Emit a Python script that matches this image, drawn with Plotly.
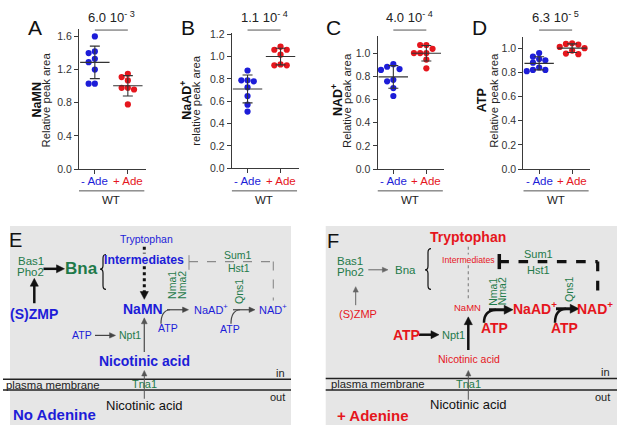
import numpy as np
import plotly.graph_objects as go

W, H = 617, 433
FONT = "Arial, 'Liberation Sans', Helvetica, sans-serif"
BLUE = "#1d1dd8"
RED = "#e5161d"
GREEN = "#1f7a4a"
AX = "#3a3a3a"

# ---------------- data ----------------
groups = ["- Ade", "+ Ade"]
genotype = "WT"
panel_letters = ["A", "B", "C", "D"]
metabolites = ["NaMN", "NaAD<sup>+</sup>", "NAD<sup>+</sup>", "ATP"]
ylabels = ["Relative peak area", "relative peak area", "Relative peak area", "Relative peak area"]
p_values = ["6.0 10<sup>- 3</sup>", "1.1 10<sup>- 4</sup>", "4.0 10<sup>- 4</sup>", "6.3 10<sup>- 5</sup>"]

namn_minus = [1.60, 1.42, 1.40, 1.33, 1.29, 1.20, 1.03, 1.03]
namn_plus = [1.15, 1.11, 1.07, 0.98, 0.96, 0.98, 0.78]
naad_minus = [0.876, 0.788, 0.788, 0.779, 0.726, 0.647, 0.570, 0.508]
naad_plus = [1.062, 1.089, 1.062, 1.018, 0.930, 0.922, 0.922]
nad_minus = [0.907, 0.885, 0.865, 0.857, 0.772, 0.759, 0.700, 0.632]
nad_plus = [1.073, 1.073, 1.040, 1.003, 1.003, 1.003, 0.947, 0.871]
atp_minus = [0.96, 0.93, 0.91, 0.90, 0.88, 0.84, 0.82, 0.81, 0.82]
atp_plus = [1.04, 1.035, 1.03, 1.01, 1.00, 0.98, 0.955, 0.95]

series_minus = [namn_minus, naad_minus, nad_minus, atp_minus]
series_plus = [namn_plus, naad_plus, nad_plus, atp_plus]

yticks_A = [0.0, 0.4, 0.8, 1.2, 1.6]
yticks_B = [0.0, 0.2, 0.4, 0.6, 0.8, 1.0, 1.2]
yticks_C = [0.0, 0.2, 0.4, 0.6, 0.8, 1.0]
yticks_D = [0.0, 0.2, 0.4, 0.6, 0.8, 1.0]
yticks = [yticks_A, yticks_B, yticks_C, yticks_D]

# ---------------- geometry (pixels) ----------------
geo = [
    dict(ax=79.0, top=25.0, base=168.3, ppu=85.0, t1=-42, t2=-33),
    dict(ax=231.7, top=29.0, base=167.5, ppu=114.5, t1=-46.5, t2=-36.5),
    dict(ax=377.5, top=32.0, base=168.3, ppu=118.6, t1=-41, t2=-31),
    dict(ax=523.3, top=33.3, base=168.3, ppu=124.0, t1=-41.5, t2=-30),
]
SP = 33.0
X0, X1 = -0.48, 1.55
MS = 6.2


def swarm(vals, ppu, d=6.2):
    v = np.asarray(vals, float)
    order = np.argsort(-v)
    placed = []
    offs = np.zeros(len(v))
    cands = [0.0]
    for k in range(1, 14):
        cands += [-k * d / 2, k * d / 2]
    for i in order:
        yp = v[i] * ppu
        for c in cands:
            if all((c - px) ** 2 + (yp - py) ** 2 >= (d * 0.98) ** 2 for px, py in placed):
                break
        placed.append((c, yp))
        offs[i] = c
    return offs


fig = go.Figure()
layout = dict(width=W, height=H, autosize=False, margin=dict(l=0, r=0, t=0, b=0),
              paper_bgcolor="white", plot_bgcolor="rgba(0,0,0,0)", showlegend=False,
              font=dict(family=FONT, color="#222"), hovermode=False)
shapes = []
annos = []

for i in range(4):
    g = geo[i]
    n = "" if i == 0 else str(i + 1)
    xa, ya = "x" + n, "y" + n
    xd = [g["ax"] / W, (g["ax"] + (X1 - X0) * SP) / W]
    yd = [1 - g["base"] / H, 1 - g["top"] / H]
    ytop = (g["base"] - g["top"]) / g["ppu"]
    layout["xaxis" + n] = dict(domain=xd, range=[X0, X1], anchor=ya, showgrid=False, zeroline=False,
                               showline=True, linecolor=AX, linewidth=1, ticks="outside", ticklen=4,
                               tickcolor=AX, tickvals=[0, 1], showticklabels=False, fixedrange=True)
    layout["yaxis" + n] = dict(domain=yd, range=[0, ytop], anchor=xa, showgrid=False, zeroline=False,
                               showline=True, linecolor=AX, linewidth=1, ticks="outside", ticklen=4,
                               tickcolor=AX, tickvals=yticks[i], tickformat=".1f",
                               tickfont=dict(size=10.5, color="#333", family=FONT), fixedrange=True)
    for k, (vals, col) in enumerate([(series_minus[i], BLUE), (series_plus[i], RED)]):
        offs = swarm(vals, g["ppu"], MS) / SP
        fig.add_trace(go.Scatter(x=k + offs, y=vals, mode="markers", xaxis=xa, yaxis=ya,
                                 marker=dict(size=MS, color=col, line=dict(width=0))))
    for k, vals in enumerate([series_minus[i], series_plus[i]]):
        m = float(np.mean(vals))
        s = float(np.std(vals, ddof=1))
        fig.add_trace(go.Scatter(x=[k], y=[m], mode="markers", xaxis=xa, yaxis=ya,
                                 marker=dict(symbol="line-ew", size=21, color="#333",
                                             line=dict(width=1.1, color="#333")),
                                 error_y=dict(type="data", array=[s], width=5, thickness=1.1, color="#333")))
    annos.append(dict(x=0, y=181, xref=xa, yref="y5", text=groups[0], showarrow=False,
                      font=dict(size=11.5, color=BLUE, family=FONT)))
    annos.append(dict(x=1, y=181, xref=xa, yref="y5", text=groups[1], showarrow=False,
                      font=dict(size=11.5, color=RED, family=FONT)))
    shapes.append(dict(type="line", xref=xa, yref="y5", x0=X0, x1=1.5, y0=190.7, y1=190.7,
                       line=dict(color="#555", width=1)))
    annos.append(dict(x=0.5, y=200.5, xref=xa, yref="y5", text=genotype, showarrow=False,
                      font=dict(size=11.5, color="#222", family=FONT)))
    shapes.append(dict(type="line", xref=xa, yref="y5", x0=0, x1=1, y0=25.7, y1=25.7,
                       line=dict(color="#555", width=1)))
    annos.append(dict(x=0.5, y=12.5, xref=xa, yref="y5", text=p_values[i], showarrow=False,
                      font=dict(size=13, color="#222", family=FONT)))
    annos.append(dict(x=g["ax"] - 44, y=22.7, xref="x5", yref="y5", text=panel_letters[i], showarrow=False,
                      font=dict(size=21, color="#111", family=FONT)))
    annos.append(dict(x=g["ax"] + g["t1"], y=98, xref="x5", yref="y5", text="<b>" + metabolites[i] + "</b>",
                      showarrow=False, textangle=-90, font=dict(size=12.5, color="#111", family=FONT)))
    annos.append(dict(x=g["ax"] + g["t2"], y=98, xref="x5", yref="y5", text=ylabels[i],
                      showarrow=False, textangle=-90, font=dict(size=11.3, color="#222", family=FONT)))

layout["xaxis5"] = dict(domain=[0, 1], range=[0, W], visible=False, fixedrange=True, anchor="y5")
layout["yaxis5"] = dict(domain=[0, 1], range=[H, 0], visible=False, fixedrange=True, anchor="x5")
fig.add_trace(go.Scatter(x=[], y=[], xaxis="x5", yaxis="y5", mode="markers"))


def txt(x, y, s, size, color, bold=False, angle=0, anchor="center"):
    annos.append(dict(x=x, y=y, xref="x5", yref="y5", text=("<b>%s</b>" % s) if bold else s,
                      showarrow=False, textangle=angle, xanchor=anchor, yanchor="middle",
                      font=dict(size=size, color=color, family=FONT)))


def line(x0, y0, x1, y1, w=1.0, color="#000", dash="solid"):
    shapes.append(dict(type="line", xref="x5", yref="y5", x0=x0, y0=y0, x1=x1, y1=y1,
                       line=dict(width=w, color=color, dash=dash)))


def path(d, w=1.0, color="#000", fill=None):
    s = dict(type="path", xref="x5", yref="y5", path=d, line=dict(width=w, color=color))
    if fill:
        s["fillcolor"] = fill
    shapes.append(s)


def head(x0, y0, x1, y1, L, hw, color):
    ux, uy = x1 - x0, y1 - y0
    n = (ux * ux + uy * uy) ** 0.5
    ux, uy = ux / n, uy / n
    bx, by = x1 - ux * L, y1 - uy * L
    px, py = -uy * hw, ux * hw
    path("M %.2f %.2f L %.2f %.2f L %.2f %.2f Z" % (x1, y1, bx + px, by + py, bx - px, by - py),
         w=0.5, color=color, fill=color)
    return bx + ux * 0.8, by + uy * 0.8


def arrow(x0, y0, x1, y1, w=1.0, color="#000", L=None, hw=None):
    if L is None:
        L = 4 + 1.6 * w
    if hw is None:
        hw = 1.6 + 1.0 * w
    bx, by = head(x0, y0, x1, y1, L, hw, color)
    line(x0, y0, bx, by, w, color)


def brace(x, y1, y2, ym, w=1.2, color="#111"):
    d = ("M %.1f %.1f Q %.1f %.1f %.1f %.1f L %.1f %.1f Q %.1f %.1f %.1f %.1f "
         "Q %.1f %.1f %.1f %.1f L %.1f %.1f Q %.1f %.1f %.1f %.1f") % (
        x + 3, y1, x, y1, x, y1 + 4, x, ym - 4, x, ym, x - 3, ym,
        x, ym, x, ym + 4, x, y2 - 4, x, y2, x + 3, y2)
    path(d, w, color)


GRAY_BG = "#e6e6e6"
shapes.append(dict(type="rect", xref="x5", yref="y5", x0=10, x1=291, y0=226.7, y1=431,
                   fillcolor=GRAY_BG, line=dict(width=0), layer="below"))
shapes.append(dict(type="rect", xref="x5", yref="y5", x0=325.7, x1=617, y0=226.7, y1=431,
                   fillcolor=GRAY_BG, line=dict(width=0), layer="below"))

# ---------------- panel E (No adenine) ----------------
txt(15, 240.7, "E", 20, "#111")
txt(146.7, 240, "Tryptophan", 10.5, BLUE)
txt(30.5, 262.7, "Bas1", 11.5, GREEN)
txt(30.5, 274.3, "Pho2", 11.5, GREEN)
arrow(43.5, 270.7, 64.5, 270.7, w=2.5, color="#111")
txt(81.7, 270.7, "Bna", 17, GREEN, bold=True)
brace(103, 256, 291.7, 271)
txt(144.2, 261.7, "Intermediates", 12.3, BLUE, bold=True)
line(144.3, 248, 144.3, 255, w=3, color="#111", dash="dot")
line(144.3, 268, 144.3, 295, w=3, color="#111", dash="dot")
arrow(144.3, 294, 144.3, 302, w=2.5, color="#111")
line(189, 256.7, 189, 271.7, w=1, color="#8a8a8a")
line(189, 263.3, 273.3, 263.3, w=1.1, color="#8a8a8a", dash="dash")
line(273.3, 263.3, 273.3, 303.3, w=1.1, color="#8a8a8a", dash="dash")
txt(238.3, 256.7, "Sum1", 10.5, GREEN)
txt(239, 270, "Hst1", 10.5, GREEN)
txt(34.2, 316.7, "(S)ZMP", 14, BLUE, bold=True)
arrow(34.3, 306, 34.3, 280.5, w=2.5, color="#111")
txt(142.8, 311.7, "NaMN", 14, BLUE, bold=True)
txt(172.7, 287.5, "Nma1", 10.5, GREEN, angle=-90)
txt(182.7, 287.5, "Nma2", 10.5, GREEN, angle=-90)
arrow(167, 312.7, 188.5, 312.7, w=1.2, color="#444")
path("M 161 327 Q 161 313.5 170 312.7", w=1.2, color="#444")
txt(168.3, 331.7, "ATP", 10.5, BLUE)
txt(210.8, 311.7, "NaAD<sup>+</sup>", 11, BLUE)
txt(238.5, 294, "Qns1", 10.5, GREEN, angle=-90)
arrow(233, 312.7, 255, 312.7, w=1.2, color="#444")
path("M 231 327 Q 231 313.5 240 312.7", w=1.2, color="#444")
txt(230, 332.7, "ATP", 10.5, BLUE)
txt(272.7, 311.7, "NAD<sup>+</sup>", 11, BLUE)
txt(81.7, 338.3, "ATP", 10.5, BLUE)
arrow(95, 339, 115.5, 339, w=1.2, color="#444")
txt(130, 339, "Npt1", 10.5, GREEN)
arrow(144.3, 356, 144.3, 321, w=1.3, color="#555")
txt(144.3, 365, "Nicotinic acid", 14, BLUE, bold=True)
txt(286.5, 377.3, "in", 11, "#222", anchor="right")
line(3, 384, 291, 384, w=1.4, color="#222")
line(3, 395, 291, 395, w=1.4, color="#222")
txt(4, 390.3, "plasma membrane", 11.3, "#222", anchor="left")
txt(144.3, 388.8, "Tna1", 11, GREEN)
arrow(144.3, 404, 144.3, 375, w=1, color="#555")
txt(286.5, 402, "out", 11, "#222", anchor="right")
txt(144.3, 410.7, "Nicotinic acid", 13, "#111")
txt(54.7, 420, "No Adenine", 15, BLUE, bold=True)

# ---------------- panel F (+ adenine) ----------------
txt(333.3, 241.7, "F", 20, "#111")
txt(468.3, 238.3, "Tryptophan", 14, RED, bold=True)
txt(350, 262.7, "Bas1", 11.5, GREEN)
txt(350, 274.3, "Pho2", 11.5, GREEN)
arrow(368.3, 271.7, 388, 271.7, w=1, color="#666")
txt(405, 271.7, "Bna", 11.5, GREEN)
brace(428, 250, 291.7, 271.7)
txt(468.3, 261.7, "Intermediates", 8.7, RED)
line(468.3, 248, 468.3, 256, w=1.2, color="#888", dash="dot")
line(468.3, 267, 468.3, 302, w=1.2, color="#888", dash="dot")
line(499.3, 255.5, 499.3, 271, w=3.5, color="#111")
line(499.3, 263.3, 597.7, 263.3, w=3.2, color="#111", dash="dash")
line(597.7, 263.3, 597.7, 302, w=3.2, color="#111", dash="dash")
txt(538.3, 255, "Sum1", 11, GREEN)
txt(538.3, 271.7, "Hst1", 11, GREEN)
txt(357.7, 316.7, "(S)ZMP", 11, RED)
arrow(355.7, 308, 355.7, 289, w=1, color="#666")
txt(467.3, 310.7, "NaMN", 9.5, RED)
txt(492.3, 294, "Nma1", 10.5, GREEN, angle=-90)
txt(501.7, 294, "Nma2", 10.5, GREEN, angle=-90)
arrow(489, 312.7, 513, 312.7, w=3, color="#111")
path("M 484 326 Q 484 313.5 496 312.7", w=2.5, color="#111")
txt(494.3, 331.7, "ATP", 14, RED, bold=True)
txt(535, 310.7, "NaAD<sup>+</sup>", 14, RED, bold=True)
txt(568.3, 292, "Qns1", 10.5, GREEN, angle=-90)
arrow(556, 311.7, 579, 311.7, w=3, color="#111")
path("M 555 326 Q 555 312.5 566 311.7", w=2.5, color="#111")
txt(564.3, 331.7, "ATP", 14, RED, bold=True)
txt(595, 310.7, "NAD<sup>+</sup>", 14, RED, bold=True)
txt(406.7, 338.3, "ATP", 14, RED, bold=True)
arrow(419, 338.3, 439, 338.3, w=2.5, color="#111")
txt(453.3, 338.3, "Npt1", 11, GREEN)
arrow(468.3, 354, 468.3, 320, w=2.5, color="#111")
txt(469, 363.3, "Nicotinic acid", 10.5, RED)
txt(612.3, 376.7, "in", 11, "#222", anchor="right")
line(325.7, 383.3, 617, 383.3, w=1.4, color="#222")
line(325.7, 395, 617, 395, w=1.4, color="#222")
txt(329, 389.3, "plasma membrane", 11.3, "#222", anchor="left")
txt(468.3, 389.3, "Tna1", 11, GREEN)
arrow(468.3, 405, 468.3, 375, w=1, color="#555")
txt(612.3, 401.7, "out", 11, "#222", anchor="right")
txt(468.3, 410, "Nicotinic acid", 13, "#111")
txt(373.3, 421.7, "+ Adenine", 15, RED, bold=True)

layout["shapes"] = shapes
layout["annotations"] = annos
fig.update_layout(**layout)
fig.write_html("out.html", config={"displayModeBar": False, "staticPlot": True},
               post_script="document.body.style.margin='0';document.body.style.overflow='hidden';")
